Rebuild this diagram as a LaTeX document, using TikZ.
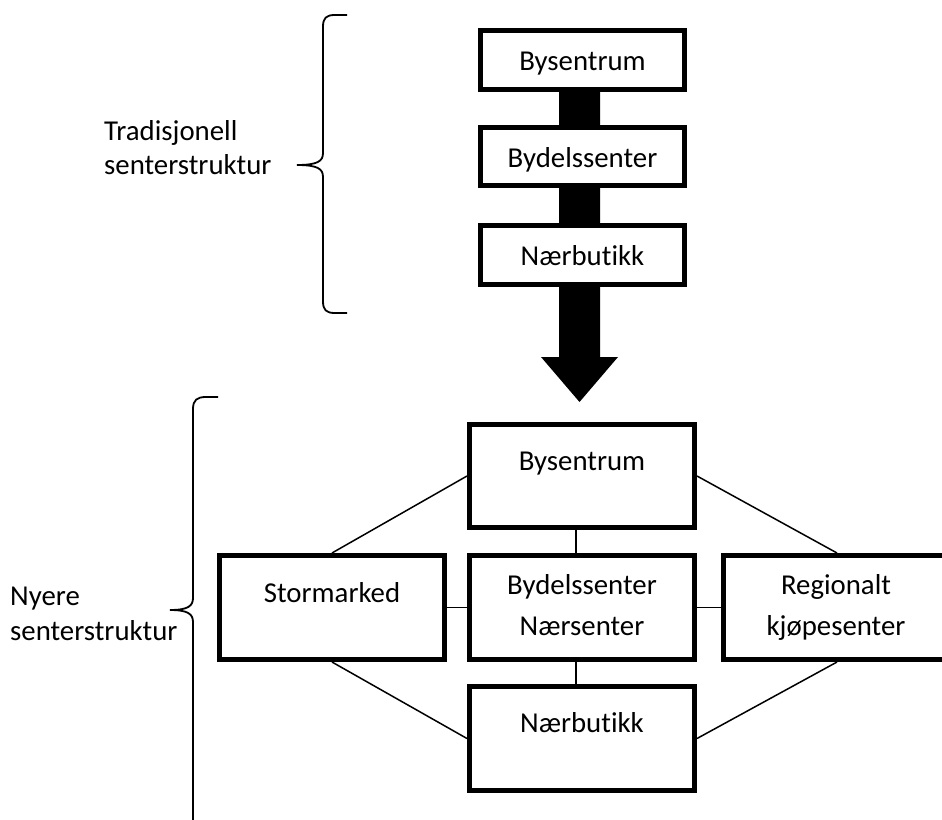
\documentclass[tikz,border=0pt]{standalone}
\usepackage{fontspec}
\setmainfont{Carlito}[Ligatures=NoCommon]
\begin{document}
\begin{tikzpicture}[x=1pt,y=-1pt,
  box/.style={draw=black, line width=5pt, fill=white, inner sep=0pt, rectangle},
  lbl/.style={inner sep=0pt, font=\fontsize{28.8}{34}\selectfont},
  link/.style={line width=1.5pt},
  brace/.style={line width=1.8pt}]
\useasboundingbox (0,0) rectangle (942,819);
\clip (0,0) rectangle (942,819);
\fill[white] (0,0) rectangle (942,819);

% flow arrow
\fill[black] (559,88) -- (559,357) -- (541,357) -- (579.5,402) -- (618,357) -- (600,357) -- (600,88) -- cycle;

% traditional structure
\node[box, minimum width=204pt, minimum height=59pt] (a1) at (582.5,60) {};
\node[lbl, anchor=base] (a1t) at (582.5,70) {Bysentrum};
\node[box, minimum width=204pt, minimum height=58pt] (a2) at (582.5,156.5) {};
\node[lbl, anchor=base] (a2t) at (582.5,167) {Bydelssenter};
\node[box, minimum width=204pt, minimum height=59pt] (a3) at (582.5,255) {};
\node[lbl, anchor=base] (a3t) at (582.5,265) {Nærbutikk};

% newer structure
\node[box, minimum width=225pt, minimum height=103pt] (b) at (582,476) {};
\node[lbl, anchor=base] (bt) at (582,470) {Bysentrum};
\node[box, minimum width=225pt, minimum height=104pt] (d) at (582,607.5) {};
\node[lbl, anchor=base] (dt1) at (582,594) {Bydelssenter};
\node[lbl, anchor=base] (dt2) at (582,635) {Nærsenter};
\node[box, minimum width=225pt, minimum height=104pt] (n) at (582,738.5) {};
\node[lbl, anchor=base] (nt) at (582,732) {Nærbutikk};
\node[box, minimum width=225pt, minimum height=104pt] (s) at (332,607.5) {};
\node[lbl, anchor=base] (st) at (332,602) {Stormarked};
\node[box, minimum width=227pt, minimum height=104pt] (r) at (837,607.5) {};
\node[lbl, anchor=base] (rt1) at (836,594) {Regionalt};
\node[lbl, anchor=base] (rt2) at (836,635) {kjøpesenter};

% connectors
\draw[link] (s.north) -- (b.west);
\draw[link] (s.south) -- (n.west);
\draw[link] (r.north) -- (b.east);
\draw[link] (r.south) -- (n.east);
\draw[link] (s.east) -- (d.west);
\draw[link] (d.east) -- (r.west);
\draw[link] ([xshift=-6pt]b.south) -- ([xshift=-6pt]d.north);
\draw[link] ([xshift=-6pt]d.south) -- ([xshift=-6pt]n.north);

% braces
\draw[brace] (347,15) -- (335,15) .. controls (326,15) and (323,18) .. (323,27) -- (323,153)
  .. controls (323,161) and (318,165) .. (297,165)
  .. controls (318,165) and (323,169) .. (323,177) -- (323,301)
  .. controls (323,310) and (326,313) .. (335,313) -- (347,313);
\draw[brace] (218,397) -- (206,397) .. controls (197,397) and (193,400) .. (193,409) -- (193,598)
  .. controls (193,606) and (188,610) .. (170,610)
  .. controls (188,610) and (193,614) .. (193,622) -- (193,830);

% side labels
\node[lbl, anchor=base west] (l1) at (104,140) {Tradisjonell};
\node[lbl, anchor=base west] (l2) at (104,174) {senterstruktur};
\node[lbl, anchor=base west] (l3) at (10,605) {Nyere};
\node[lbl, anchor=base west] (l4) at (10,640) {senterstruktur};
\end{tikzpicture}
\end{document}
